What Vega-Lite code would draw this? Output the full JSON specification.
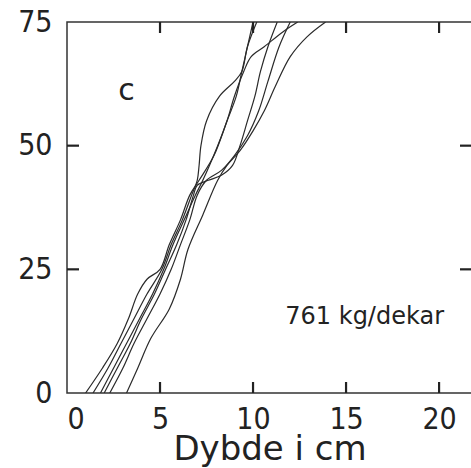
{
  "$schema": "https://vega.github.io/schema/vega-lite/v6.json",
  "width": 405,
  "height": 371,
  "autosize": "none",
  "padding": {"left": 67, "top": 22, "right": 0, "bottom": 75},
  "background": "#ffffff",
  "config": {
    "view": {"stroke": "#333333", "strokeWidth": 1.5},
    "font": "DejaVu Sans"
  },
  "datasets": {
    "curves": [
      {"curve": "C1", "x": 1.0, "y": 0}, {"curve": "C1", "x": 1.9, "y": 5}, {"curve": "C1", "x": 2.7, "y": 10}, {"curve": "C1", "x": 3.3, "y": 15}, {"curve": "C1", "x": 3.8, "y": 20}, {"curve": "C1", "x": 4.3, "y": 23}, {"curve": "C1", "x": 5.0, "y": 25}, {"curve": "C1", "x": 5.5, "y": 30}, {"curve": "C1", "x": 6.1, "y": 35}, {"curve": "C1", "x": 6.6, "y": 40}, {"curve": "C1", "x": 7.1, "y": 43}, {"curve": "C1", "x": 7.9, "y": 48}, {"curve": "C1", "x": 8.6, "y": 55}, {"curve": "C1", "x": 9.1, "y": 60}, {"curve": "C1", "x": 9.4, "y": 65}, {"curve": "C1", "x": 9.7, "y": 70}, {"curve": "C1", "x": 10.0, "y": 75},
      {"curve": "C2", "x": 1.4, "y": 0}, {"curve": "C2", "x": 2.2, "y": 5}, {"curve": "C2", "x": 2.9, "y": 10}, {"curve": "C2", "x": 3.6, "y": 15}, {"curve": "C2", "x": 4.3, "y": 20}, {"curve": "C2", "x": 5.1, "y": 25}, {"curve": "C2", "x": 5.6, "y": 30}, {"curve": "C2", "x": 6.2, "y": 35}, {"curve": "C2", "x": 6.7, "y": 40}, {"curve": "C2", "x": 7.0, "y": 43}, {"curve": "C2", "x": 7.1, "y": 46}, {"curve": "C2", "x": 7.2, "y": 50}, {"curve": "C2", "x": 7.5, "y": 55}, {"curve": "C2", "x": 8.2, "y": 60}, {"curve": "C2", "x": 9.0, "y": 63}, {"curve": "C2", "x": 9.4, "y": 65}, {"curve": "C2", "x": 9.7, "y": 70}, {"curve": "C2", "x": 10.2, "y": 75},
      {"curve": "C3", "x": 1.8, "y": 0}, {"curve": "C3", "x": 2.5, "y": 5}, {"curve": "C3", "x": 3.2, "y": 10}, {"curve": "C3", "x": 3.9, "y": 15}, {"curve": "C3", "x": 4.6, "y": 20}, {"curve": "C3", "x": 5.2, "y": 25}, {"curve": "C3", "x": 5.7, "y": 30}, {"curve": "C3", "x": 6.3, "y": 35}, {"curve": "C3", "x": 6.9, "y": 40}, {"curve": "C3", "x": 7.3, "y": 43}, {"curve": "C3", "x": 8.1, "y": 50}, {"curve": "C3", "x": 8.6, "y": 55}, {"curve": "C3", "x": 9.0, "y": 60}, {"curve": "C3", "x": 9.5, "y": 65}, {"curve": "C3", "x": 9.9, "y": 68}, {"curve": "C3", "x": 10.6, "y": 70}, {"curve": "C3", "x": 11.6, "y": 73}, {"curve": "C3", "x": 12.4, "y": 75},
      {"curve": "C4", "x": 2.0, "y": 0}, {"curve": "C4", "x": 2.7, "y": 5}, {"curve": "C4", "x": 3.4, "y": 10}, {"curve": "C4", "x": 4.0, "y": 15}, {"curve": "C4", "x": 4.7, "y": 20}, {"curve": "C4", "x": 5.3, "y": 25}, {"curve": "C4", "x": 5.9, "y": 30}, {"curve": "C4", "x": 6.4, "y": 35}, {"curve": "C4", "x": 6.8, "y": 40}, {"curve": "C4", "x": 7.0, "y": 42}, {"curve": "C4", "x": 7.6, "y": 43}, {"curve": "C4", "x": 8.3, "y": 44}, {"curve": "C4", "x": 8.9, "y": 46}, {"curve": "C4", "x": 9.3, "y": 50}, {"curve": "C4", "x": 9.7, "y": 55}, {"curve": "C4", "x": 10.1, "y": 60}, {"curve": "C4", "x": 10.4, "y": 65}, {"curve": "C4", "x": 10.8, "y": 70}, {"curve": "C4", "x": 11.3, "y": 75},
      {"curve": "C5", "x": 2.3, "y": 0}, {"curve": "C5", "x": 3.0, "y": 5}, {"curve": "C5", "x": 3.6, "y": 10}, {"curve": "C5", "x": 4.3, "y": 15}, {"curve": "C5", "x": 5.0, "y": 20}, {"curve": "C5", "x": 5.6, "y": 25}, {"curve": "C5", "x": 6.1, "y": 30}, {"curve": "C5", "x": 6.6, "y": 35}, {"curve": "C5", "x": 7.0, "y": 40}, {"curve": "C5", "x": 7.5, "y": 43}, {"curve": "C5", "x": 8.3, "y": 45}, {"curve": "C5", "x": 9.0, "y": 48}, {"curve": "C5", "x": 9.7, "y": 52}, {"curve": "C5", "x": 10.3, "y": 57}, {"curve": "C5", "x": 10.8, "y": 63}, {"curve": "C5", "x": 11.4, "y": 70}, {"curve": "C5", "x": 12.0, "y": 75},
      {"curve": "C6", "x": 3.2, "y": 0}, {"curve": "C6", "x": 3.8, "y": 5}, {"curve": "C6", "x": 4.5, "y": 11}, {"curve": "C6", "x": 5.5, "y": 17}, {"curve": "C6", "x": 6.1, "y": 23}, {"curve": "C6", "x": 6.5, "y": 29}, {"curve": "C6", "x": 7.3, "y": 36}, {"curve": "C6", "x": 8.1, "y": 43}, {"curve": "C6", "x": 8.6, "y": 46}, {"curve": "C6", "x": 9.3, "y": 49}, {"curve": "C6", "x": 10.0, "y": 53}, {"curve": "C6", "x": 10.6, "y": 57}, {"curve": "C6", "x": 11.2, "y": 62}, {"curve": "C6", "x": 12.0, "y": 68}, {"curve": "C6", "x": 12.9, "y": 72}, {"curve": "C6", "x": 13.9, "y": 75}
    ],
    "vticks": [
      {"x": 5, "y": 0}, {"x": 10, "y": 0}, {"x": 15, "y": 0}, {"x": 20, "y": 0},
      {"x": 5, "y": 75}, {"x": 10, "y": 75}, {"x": 15, "y": 75}, {"x": 20, "y": 75}
    ],
    "hticks": [
      {"x": 0, "y": 25}, {"x": 0, "y": 50},
      {"x": 21.77, "y": 25}, {"x": 21.77, "y": 50}
    ],
    "notes": [
      {"label": "c", "x": 3.2, "y": 61, "kind": "panel"},
      {"label": "761 kg/dekar", "x": 16.0, "y": 15.3, "kind": "note"}
    ]
  },
  "layer": [
    {
      "data": {"name": "curves"},
      "mark": {"type": "line", "interpolate": "catmull-rom", "color": "#2a2a2a", "strokeWidth": 1.2, "clip": true},
      "encoding": {
        "x": {
          "field": "x", "type": "quantitative",
          "scale": {"domain": [0, 21.77], "nice": false, "zero": false},
          "axis": {
            "values": [0, 5, 10, 15, 20], "title": "Dybde i cm", "grid": false,
            "domain": false, "ticks": false,
            "labelFontSize": 30, "labelColor": "#222", "labelPadding": 11, "labelFont": "DejaVu Sans Condensed",
            "titleFontSize": 34, "titleFontWeight": "normal", "titleColor": "#222", "titlePadding": -2, "titleFont": "DejaVu Sans"
          }
        },
        "y": {
          "field": "y", "type": "quantitative",
          "scale": {"domain": [0, 75], "nice": false, "zero": false},
          "axis": {
            "values": [0, 25, 50, 75], "title": null, "grid": false,
            "domain": false, "ticks": false,
            "labelFontSize": 30, "labelColor": "#222", "labelPadding": 15, "labelFont": "DejaVu Sans Condensed"
          }
        },
        "detail": {"field": "curve"},
        "order": {"field": "y", "type": "quantitative"}
      }
    },
    {
      "data": {"name": "vticks"},
      "mark": {"type": "tick", "orient": "vertical", "size": 22, "thickness": 2.2, "color": "#222222", "clip": true, "opacity": 1},
      "encoding": {
        "x": {"field": "x", "type": "quantitative"},
        "y": {"field": "y", "type": "quantitative"}
      }
    },
    {
      "data": {"name": "hticks"},
      "mark": {"type": "tick", "orient": "horizontal", "size": 24, "thickness": 2.2, "color": "#222222", "clip": true, "opacity": 1},
      "encoding": {
        "x": {"field": "x", "type": "quantitative"},
        "y": {"field": "y", "type": "quantitative"}
      }
    },
    {
      "data": {"name": "notes"},
      "transform": [{"filter": "datum.kind == 'panel'"}],
      "mark": {"type": "text", "fontSize": 30, "color": "#222", "font": "DejaVu Sans"},
      "encoding": {
        "x": {"field": "x", "type": "quantitative"},
        "y": {"field": "y", "type": "quantitative"},
        "text": {"field": "label"}
      }
    },
    {
      "data": {"name": "notes"},
      "transform": [{"filter": "datum.kind == 'note'"}],
      "mark": {"type": "text", "fontSize": 24, "color": "#222", "font": "DejaVu Sans"},
      "encoding": {
        "x": {"field": "x", "type": "quantitative"},
        "y": {"field": "y", "type": "quantitative"},
        "text": {"field": "label"}
      }
    }
  ]
}
